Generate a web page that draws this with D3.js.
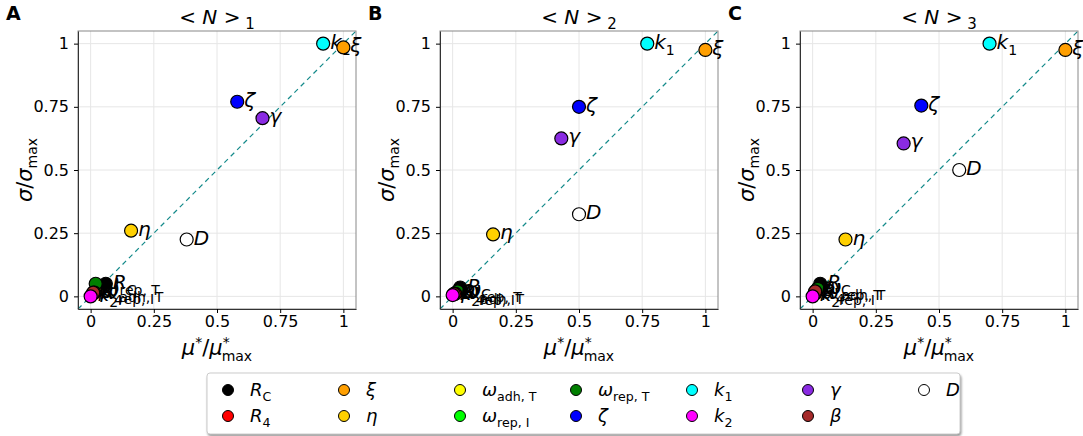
<!DOCTYPE html>
<html><head><meta charset="utf-8">
<script src="https://cdn.jsdelivr.net/npm/d3@7"></script>
<style>body{margin:0;background:#fff;font-family:"DejaVu Sans",sans-serif}</style>
</head><body><svg id="c" width="1083" height="436"></svg>
<script>
// parameter names, colours, legend labels
const params = ["RC","R4","xi","eta","wadhT","wrepI","wrepT","zeta","k1","k2","gamma","beta","D"];
const colors = {RC:"#000000",R4:"#ff0000",xi:"#ff9f00",eta:"#ffd000",wadhT:"#ffff00",wrepI:"#00ff00",
  wrepT:"#007f00",zeta:"#0000ff",k1:"#00ffff",k2:"#ff00ff",gamma:"#8a2be2",beta:"#a52a2a",D:"#ffffff"};
const labels = {RC:["R","C"],R4:["R","4"],xi:["ξ",""],eta:["η",""],wadhT:["ω","adh, T"],wrepI:["ω","rep, I"],
  wrepT:["ω","rep, T"],zeta:["ζ",""],k1:["k","1"],k2:["k","2"],gamma:["γ",""],beta:["β",""],D:["D",""]};
const legendOrder = ["RC","R4","xi","eta","wadhT","wrepI","wrepT","zeta","k1","k2","gamma","beta","D"];

// [mu*/mu*max, sigma/sigma max] per panel
const panelA = {RC:[0.06,0.05],R4:[0.01,0.01],xi:[1,0.985],eta:[0.16,0.26],wadhT:[0.02,0.02],wrepI:[0.015,0.015],
  wrepT:[0.02,0.05],zeta:[0.58,0.77],k1:[0.92,1],k2:[0,0],gamma:[0.68,0.705],beta:[0.01,0.015],D:[0.38,0.225]};
const panelB = {RC:[0.03,0.035],R4:[0.01,0.01],xi:[1,0.975],eta:[0.16,0.245],wadhT:[0.015,0.015],wrepI:[0.01,0.01],
  wrepT:[0.02,0.02],zeta:[0.5,0.75],k1:[0.77,1],k2:[0,0.005],gamma:[0.43,0.625],beta:[0.005,0.01],D:[0.5,0.325]};
const panelC = {RC:[0.03,0.05],R4:[0.01,0.015],xi:[1,0.975],eta:[0.13,0.225],wadhT:[0.02,0.03],wrepI:[0.01,0.01],
  wrepT:[0.02,0.03],zeta:[0.43,0.755],k1:[0.7,1],k2:[0,0],gamma:[0.36,0.605],beta:[0.01,0.02],D:[0.58,0.5]};
const panels = [{key:"A",sub:"1",left:78,data:panelA},{key:"B",sub:"2",left:440,data:panelB},{key:"C",sub:"3",left:800,data:panelC}];
const ticks = [0,0.25,0.5,0.75,1];
const tickLabels = ["0","0.25","0.5","0.75","1"];

const svg = d3.select("#c");
const W = 278, axTop = 31, axBottom = 309;
const drawOrder = ["D","eta","gamma","zeta","k1","xi","wadhT","RC","wrepT","wrepI","R4","beta","k2"];

function lab(g, p, x, y, size) {
  const t = g.append("text").attr("x", x).attr("y", y).attr("font-size", size).attr("font-style","italic");
  t.append("tspan").text(labels[p][0]);
  if (labels[p][1]) t.append("tspan").attr("dy", size*0.3).attr("font-size", size*0.7)
      .attr("font-style", labels[p][1].length > 1 ? "normal" : "normal").text(labels[p][1]);
  return t;
}

panels.forEach(pn => {
  const x = d3.scaleLinear().domain([-0.05,1.05]).range([pn.left, pn.left+W]);
  const y = d3.scaleLinear().domain([-0.05,1.05]).range([axBottom, axTop]);
  const g = svg.append("g");
  g.append("g").selectAll("line").data(ticks).join("line")
    .attr("x1",d=>x(d)).attr("x2",d=>x(d)).attr("y1",axTop).attr("y2",axBottom).attr("stroke","#e6e6e6");
  g.append("g").selectAll("line").data(ticks).join("line")
    .attr("y1",d=>y(d)).attr("y2",d=>y(d)).attr("x1",pn.left).attr("x2",pn.left+W).attr("stroke","#e6e6e6");
  g.append("line").attr("x1",x(-0.05)).attr("y1",y(-0.05)).attr("x2",x(1.05)).attr("y2",y(1.05))
    .attr("stroke","#138a8a").attr("stroke-width",1.2).attr("stroke-dasharray","5,4");
  g.append("rect").attr("x",pn.left).attr("y",axTop).attr("width",W).attr("height",axBottom-axTop)
    .attr("fill","none").attr("stroke","#888");
  const xa = g.append("g").attr("transform",`translate(0,${axBottom})`)
    .call(d3.axisBottom(x).tickValues(ticks).tickFormat((d,i)=>tickLabels[i]).tickSize(4).tickSizeOuter(0));
  const ya = g.append("g").attr("transform",`translate(${pn.left},0)`)
    .call(d3.axisLeft(y).tickValues(ticks).tickFormat((d,i)=>tickLabels[i]).tickSize(4).tickSizeOuter(0));
  [xa,ya].forEach(a=>{a.selectAll("text").attr("font-size",16).attr("fill","#000").attr("font-family","DejaVu Sans");
    a.select(".domain").attr("stroke","#333");});
  ya.selectAll("text").attr("dx",-2);
  drawOrder.forEach(p => {
    const d = pn.data[p];
    g.append("circle").attr("cx",x(d[0])).attr("cy",y(d[1])).attr("r",6.5)
      .attr("fill",colors[p]).attr("stroke","#000").attr("stroke-width",1.2);
    lab(g, p, x(d[0])+7, y(d[1])+5, 20);
  });
  svg.append("text").attr("x",pn.left-72).attr("y",20).attr("font-size",19).attr("font-weight","bold").text(pn.key);
  const tt = svg.append("text").attr("x",pn.left+W/2).attr("y",24).attr("text-anchor","middle").attr("font-size",20);
  tt.append("tspan").text("< ");
  tt.append("tspan").attr("font-style","italic").text("N");
  tt.append("tspan").text(" >");
  tt.append("tspan").attr("dy",5).attr("font-size",15).text(" "+pn.sub);
  const xl = svg.append("text").attr("x",pn.left+W/2).attr("y",355).attr("text-anchor","middle").attr("font-size",21);
  xl.append("tspan").attr("font-style","italic").text("μ");
  xl.append("tspan").attr("dy",-8).attr("font-size",14).text("*");
  xl.append("tspan").attr("dy",8).text("/");
  xl.append("tspan").attr("font-style","italic").text("μ");
  xl.append("tspan").attr("dy",-8).attr("font-size",14).text("*");
  xl.append("tspan").attr("dx",-8).attr("dy",14).attr("font-size",14).text("max");
  const yl = svg.append("text").attr("transform",`translate(${pn.left-46},${(axTop+axBottom)/2}) rotate(-90)`)
    .attr("text-anchor","middle").attr("font-size",21);
  yl.append("tspan").attr("font-style","italic").text("σ");
  yl.append("tspan").text("/");
  yl.append("tspan").attr("font-style","italic").text("σ");
  yl.append("tspan").attr("dy",5).attr("font-size",14).text("max");
});

// legend
const lg = svg.append("g");
lg.append("rect").attr("x",207).attr("y",373).attr("width",753).attr("height",61).attr("rx",3)
  .attr("fill","#fff").attr("stroke","#ccc").attr("filter","drop-shadow(1px 2px 1px #999)");
legendOrder.forEach((p,i) => {
  const col = Math.floor(i/2), row = i%2;
  const lx = 228 + col*116, ly = 390 + row*26;
  lg.append("circle").attr("cx",lx).attr("cy",ly).attr("r",5.5).attr("fill",colors[p]).attr("stroke","#000");
  lab(lg, p, lx+22, ly+6, 18);
});
</script></body></html>
